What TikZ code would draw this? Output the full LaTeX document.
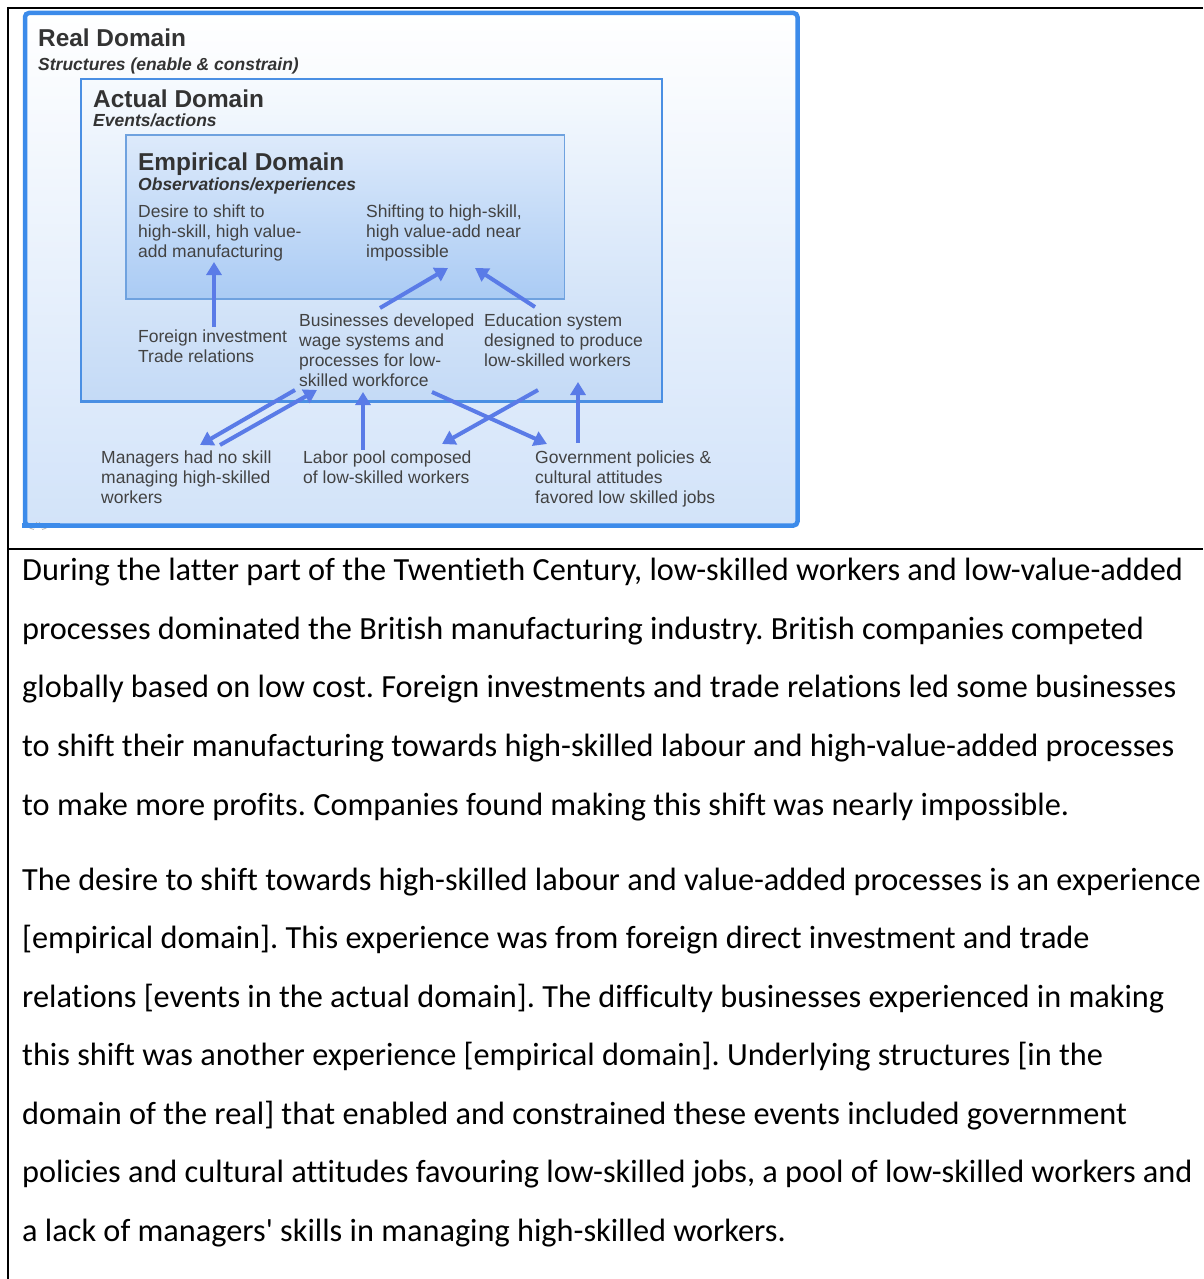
\documentclass[tikz,border=0pt]{standalone}
\usepackage{fontspec}
\setmainfont{Liberation Sans}
\newfontfamily\parafont[Ligatures=CommonOff]{Carlito}
\usetikzlibrary{arrows.meta,calc}
\frenchspacing

\definecolor{rule}{HTML}{000000}
\definecolor{realedge}{HTML}{3C8BEA}
\definecolor{realtop}{HTML}{FFFFFF}
\definecolor{realbot}{HTML}{D2E3F9}
\definecolor{actedge}{HTML}{4A8FE3}
\definecolor{acttop}{HTML}{F6FAFE}
\definecolor{actbot}{HTML}{C4DAF6}
\definecolor{empedge}{HTML}{6FA2DF}
\definecolor{emptop}{HTML}{DDEAFB}
\definecolor{empbot}{HTML}{AACBF4}
\definecolor{arrblue}{HTML}{5A7BE7}
\definecolor{headgray}{HTML}{333333}
\definecolor{bodygray}{HTML}{424242}

\begin{document}
\begin{tikzpicture}[x=1pt,y=-1pt,
  body/.style={anchor=north west, inner sep=0pt, align=left, text=bodygray,
    font=\fontsize{17.5}{20}\selectfont},
  head/.style={anchor=base west, inner sep=0pt, text=headgray,
    font=\fontsize{24.4}{28}\selectfont\bfseries},
  subhead/.style={anchor=base west, inner sep=0pt, text=headgray,
    font=\fontsize{17.5}{20}\selectfont\bfseries\itshape},
  arr/.style={draw=arrblue, line width=4pt, -{Triangle[length=13pt,width=15pt]}},
  para/.style={anchor=base west, inner sep=0pt, text=black,
    font=\parafont\fontsize{32.3}{38}\selectfont},
  ruleline/.style={draw=rule, line width=2pt}
]
\useasboundingbox (0,0) rectangle (1203,1279);
\fill[white] (0,0) rectangle (1203,1279);

% table rules
\draw[ruleline] (8,8) -- (1203,8);
\draw[ruleline] (8,7) -- (8,1279);
\draw[ruleline] (7,549) -- (1203,549);

% nested domain boxes
\draw[line width=4.5pt, draw=realedge, rounded corners=4pt,
      top color=realtop, bottom color=realbot] (25,13) rectangle (797.5,525.5);
\draw[line width=2.5pt, draw=actedge, top color=acttop, bottom color=actbot]
      (81,79) rectangle (662,401.5);
\draw[line width=1.5pt, draw=empedge, top color=emptop, bottom color=empbot]
      (126,135) rectangle (564.5,299);

% small wheel mark at the lower left corner
\begin{scope}[shift={(38,531)}]
  \foreach \a in {200,220,...,340}
    \draw[gray!55, line width=0.9pt] (\a:4.5) -- (\a:9);
\end{scope}
\draw[line width=4.5pt, draw=realedge] (22,525.5) -- (60,525.5);

% headings
\node[head] (realT) at (38,46.5) {Real Domain};
\node[subhead] (realS) at (38,70.5) {Structures (enable \& constrain)};
\node[head] (actT) at (93,108) {Actual Domain};
\node[subhead] (actS) at (93,126.5) {Events/actions};
\node[head] (empT) at (138,170.5) {Empirical Domain};
\node[subhead] (empS) at (138,190.5) {Observations/experiences};

% statements
\node[body] (desire) at (138,204.5) {Desire to shift to\\high-skill, high value-\\add manufacturing};
\node[body] (shift) at (366,204.5) {Shifting to high-skill,\\high value-add near\\impossible};
\node[body] (foreign) at (138,329.5) {Foreign investment\\Trade relations};
\node[body] (business) at (299,313.5) {Businesses developed\\wage systems and\\processes for low-\\skilled workforce};
\node[body] (edu) at (484,313.5) {Education system\\designed to produce\\low-skilled workers};
\node[body] (managers) at (101,450.5) {Managers had no skill\\managing high-skilled\\workers};
\node[body] (labor) at (303,450.5) {Labor pool composed\\of low-skilled workers};
\node[body] (gov) at (535,450.5) {Government policies \&\\cultural attitudes\\favored low skilled jobs};

% connector end points
\coordinate (fiS) at (214,327);   \coordinate (deT) at (214,262);
\coordinate (buA) at (380,308);   \coordinate (shA) at (448,268);
\coordinate (edA) at (535,307);   \coordinate (shB) at (475,268);
\coordinate (buB) at (295,390);   \coordinate (maA) at (200,445);
\coordinate (maB) at (220,445);   \coordinate (buC) at (317,390);
\coordinate (laA) at (363,450);   \coordinate (buD) at (363,392);
\coordinate (buE) at (432,392);   \coordinate (goA) at (547,444);
\coordinate (edB) at (538,390);   \coordinate (laB) at (442,444);
\coordinate (goB) at (578,443);   \coordinate (edC) at (578,382);

\draw[arr] (fiS) -- (deT);
\draw[arr] (buA) -- (shA);
\draw[arr] (edA) -- (shB);
\draw[arr] (buB) -- (maA);
\draw[arr] (maB) -- (buC);
\draw[arr] (laA) -- (buD);
\draw[arr] (buE) -- (goA);
\draw[arr] (edB) -- (laB);
\draw[arr] (goB) -- (edC);

% explanatory text
\node[para] (p1) at (22,580) {During the latter part of the Twentieth Century, low-skilled workers and low-value-added};
\node[para] (p2) at (22,639) {processes dominated the British manufacturing industry. British companies competed};
\node[para] (p3) at (22,697.5) {globally based on low cost. Foreign investments and trade relations led some businesses};
\node[para] (p4) at (22,756) {to shift their manufacturing towards high-skilled labour and high-value-added processes};
\node[para] (p5) at (22,815) {to make more profits. Companies found making this shift was nearly impossible.};
\node[para] (q1) at (22,890) {The desire to shift towards high-skilled labour and value-added processes is an experience};
\node[para] (q2) at (22,948.5) {[empirical domain]. This experience was from foreign direct investment and trade};
\node[para] (q3) at (22,1007) {relations [events in the actual domain]. The difficulty businesses experienced in making};
\node[para] (q4) at (22,1065.5) {this shift was another experience [empirical domain]. Underlying structures [in the};
\node[para] (q5) at (22,1124) {domain of the real] that enabled and constrained these events included government};
\node[para] (q6) at (22,1182.5) {policies and cultural attitudes favouring low-skilled jobs, a pool of low-skilled workers and};
\node[para] (q7) at (22,1241) {a lack of managers' skills in managing high-skilled workers.};
\end{tikzpicture}
\end{document}
